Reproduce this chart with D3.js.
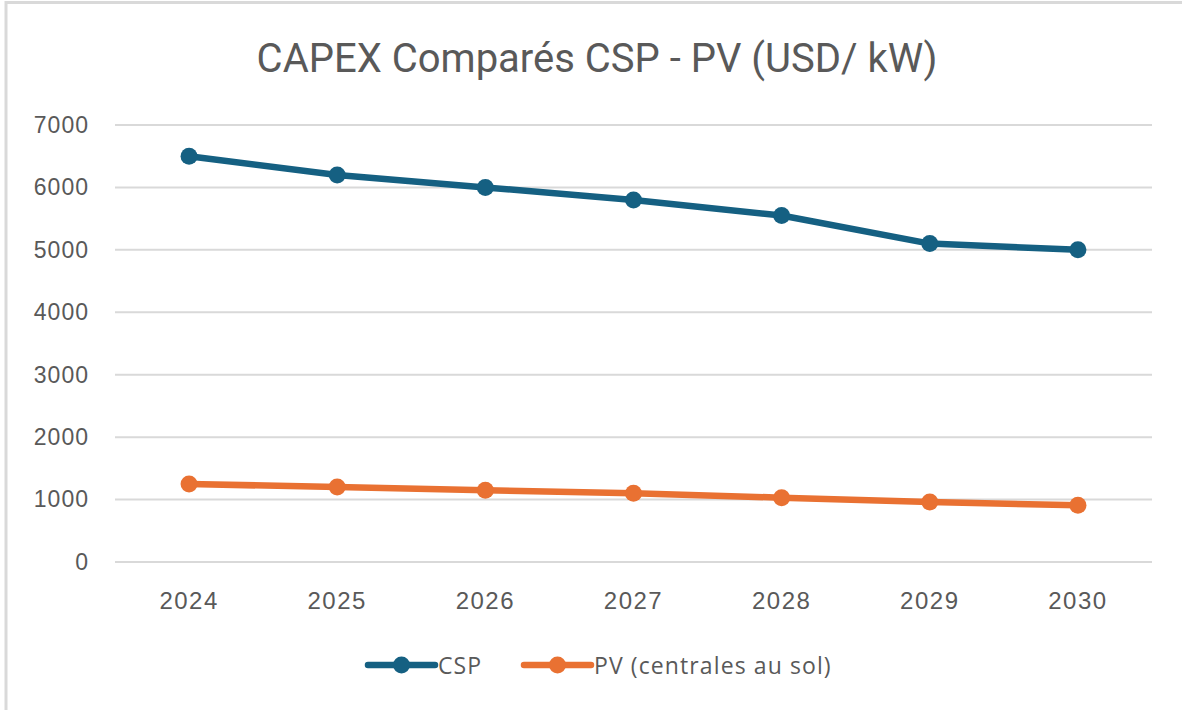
<!DOCTYPE html>
<html>
<head>
<meta charset="utf-8">
<script src="https://cdn.jsdelivr.net/npm/d3@7"></script>
<style>
  body { margin: 0; background: #fff; }
  svg { display: block; }
</style>
</head>
<body>
<div id="chart"></div>
<script>
var years = ["2024", "2025", "2026", "2027", "2028", "2029", "2030"];
var cspValues = [6500, 6200, 6000, 5800, 5550, 5100, 5000];
var pvValues = [1250, 1200, 1150, 1100, 1030, 960, 910];
var seriesNames = ["CSP", "PV (centrales au sol)"];
var seriesColors = ["#156082", "#E97132"];
var yTicks = [0, 1000, 2000, 3000, 4000, 5000, 6000, 7000];

var width = 1182, height = 710;
var margin = { top: 125, right: 30, bottom: 148, left: 115 };

var svg = d3.select("#chart")
    .append("svg")
    .attr("width", width)
    .attr("height", height);

// outer frame (top and left edges visible)
svg.append("line")
    .attr("x1", 6).attr("x2", width).attr("y1", 2.5).attr("y2", 2.5)
    .attr("stroke", "#d9d9d9").attr("stroke-width", 3);
svg.append("line")
    .attr("x1", 6).attr("x2", 6).attr("y1", 1).attr("y2", height)
    .attr("stroke", "#d9d9d9").attr("stroke-width", 3);

var x = d3.scaleBand()
    .domain(years)
    .range([margin.left, width - margin.right]);

var y = d3.scaleLinear()
    .domain([0, 7000])
    .range([height - margin.bottom, margin.top]);

svg.append("text")
    .attr("x", 597)
    .attr("y", 72)
    .attr("text-anchor", "middle")
    .attr("font-family", "Roboto, 'Liberation Sans', sans-serif")
    .attr("font-size", 40)
    .attr("fill", "#595959")
    .text("CAPEX Comparés CSP - PV (USD/ kW)");

// gridlines
svg.append("g")
    .selectAll("line")
    .data(yTicks)
    .enter().append("line")
    .attr("x1", margin.left)
    .attr("x2", width - margin.right)
    .attr("y1", function (d) { return y(d); })
    .attr("y2", function (d) { return y(d); })
    .attr("stroke", "#d9d9d9")
    .attr("stroke-width", 2);

// y axis labels
var yAxis = svg.append("g")
    .attr("transform", "translate(" + (margin.left - 26) + ",0)")
    .call(d3.axisLeft(y).tickValues(yTicks).tickFormat(d3.format("d")).tickSize(0).tickPadding(0));
yAxis.select(".domain").remove();
yAxis.selectAll("text")
    .attr("font-family", "'Liberation Sans', Arial, sans-serif")
    .attr("font-size", 23)
    .attr("letter-spacing", 1)
    .attr("fill", "#595959");

// x axis labels
var xAxis = svg.append("g")
    .attr("transform", "translate(0," + (height - margin.bottom + 30) + ")")
    .call(d3.axisBottom(x).tickSize(0).tickPadding(0));
xAxis.select(".domain").remove();
xAxis.selectAll("text")
    .attr("font-family", "'Liberation Sans', Arial, sans-serif")
    .attr("font-size", 24)
    .attr("letter-spacing", 1.5)
    .attr("fill", "#595959");

var line = d3.line()
    .x(function (d, i) { return x(years[i]) + x.bandwidth() / 2; })
    .y(function (d) { return y(d); });

[cspValues, pvValues].forEach(function (values, k) {
    svg.append("path")
        .datum(values)
        .attr("d", line)
        .attr("fill", "none")
        .attr("stroke", seriesColors[k])
        .attr("stroke-width", 6.5)
        .attr("stroke-linejoin", "round")
        .attr("stroke-linecap", "round");

    svg.append("g")
        .selectAll("circle")
        .data(values)
        .enter().append("circle")
        .attr("cx", function (d, i) { return x(years[i]) + x.bandwidth() / 2; })
        .attr("cy", function (d) { return y(d); })
        .attr("r", 8.5)
        .attr("fill", seriesColors[k]);
});

// legend
var legendX = [368, 524];
var legendY = 665;
seriesNames.forEach(function (name, k) {
    var g = svg.append("g").attr("transform", "translate(" + legendX[k] + "," + legendY + ")");
    g.append("line")
        .attr("x1", 0).attr("x2", 67)
        .attr("y1", 0).attr("y2", 0)
        .attr("stroke", seriesColors[k])
        .attr("stroke-width", 6.5)
        .attr("stroke-linecap", "round");
    g.append("circle")
        .attr("cx", 33.5).attr("cy", 0).attr("r", 8.5)
        .attr("fill", seriesColors[k]);
    g.append("text")
        .attr("x", 70)
        .attr("y", 8.5)
        .attr("font-family", "'Open Sans', sans-serif")
        .attr("font-size", 23)
        .attr("letter-spacing", 1.1)
        .attr("fill", "#595959")
        .text(name);
});
</script>
</body>
</html>
